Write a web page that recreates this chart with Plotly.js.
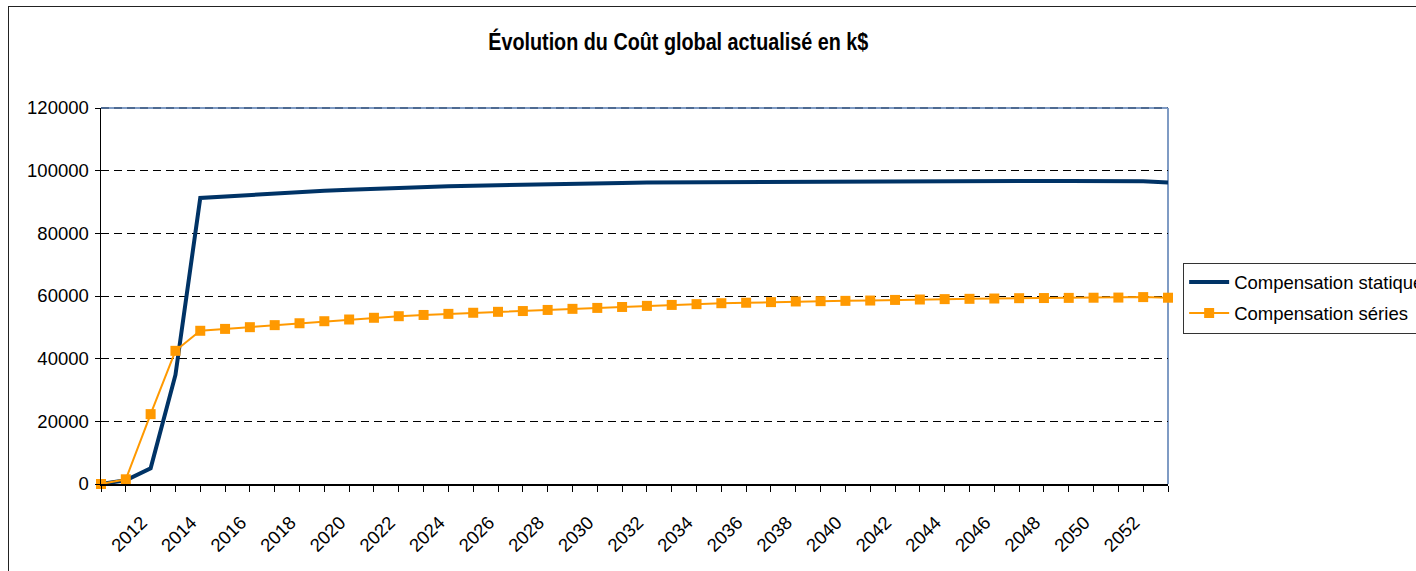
<!DOCTYPE html>
<html>
<head>
<meta charset="utf-8">
<script src="https://cdn.plot.ly/plotly-3.0.1.min.js"></script>
<style>
  html, body { margin: 0; padding: 0; background: #fff; overflow: hidden; }
  #frame { position: absolute; left: 8px; top: 6px; width: 3000px; height: 3000px; border: 1.5px solid #222; pointer-events: none; z-index: 5; }
  #chart { position: absolute; left: 0; top: 0; width: 1416px; height: 571px; }
</style>
</head>
<body>
<div id="chart"></div>
<div id="frame"></div>
<script>
const years = [];
for (let y = 2010; y <= 2053; y++) years.push(y);

const compensationStatique = [
  0, 1200, 5000, 34800, 91300, 91800, 92300, 92800, 93200, 93600,
  93900, 94250, 94550, 94750, 95000, 95200, 95400, 95550, 95650, 95850,
  96000, 96100, 96200, 96250, 96300, 96350, 96400, 96450, 96500, 96550,
  96550, 96600, 96600, 96600, 96650, 96650, 96650, 96700, 96700, 96700,
  96700, 96700, 96600, 96250
];

const compensationSeries = [
  0, 1500, 22300, 42500, 48900, 49500, 50050, 50700, 51300, 51950,
  52500, 53050, 53550, 53950, 54300, 54650, 54950, 55200, 55550, 55900,
  56200, 56500, 56850, 57150, 57400, 57700, 57850, 58050, 58250, 58350,
  58450, 58550, 58750, 58880, 59000, 59100, 59200, 59300, 59350, 59400,
  59450, 59500, 59650, 59450
];

const xTickLabels = [2012,2014,2016,2018,2020,2022,2024,2026,2028,2030,2032,2034,2036,2038,2040,2042,2044,2046,2048,2050,2052];
const yTickValues = [0, 20000, 40000, 60000, 80000, 100000, 120000];

const FONT = 'Liberation Sans, Arial, sans-serif';

const traces = [
  {
    x: years, y: compensationStatique, type: 'scatter', mode: 'lines',
    name: 'Compensation statique', legendgroup: 'a',
    line: { color: '#003366', width: 4 }, cliponaxis: false
  },
  {
    x: years, y: compensationSeries, type: 'scatter', mode: 'lines+markers',
    name: 'Compensation séries', legendgroup: 'b',
    line: { color: '#FF9900', width: 2 },
    marker: { symbol: 'square', size: 10, color: '#FF9900' }, cliponaxis: false
  }
];

const layout = {
  width: 1416, height: 571, autosize: false,
  paper_bgcolor: '#ffffff', plot_bgcolor: '#ffffff',
  margin: { l: 101, r: 248, t: 108, b: 87, autoexpand: false },
  font: { family: FONT, size: 18.5, color: '#000' },
  title: {
    text: '<b>Évolution du Coût global actualisé en k$</b>',
    font: { family: FONT, size: 23, color: '#000' },
    xref: 'container', yref: 'container', x: 0.479, y: 0.926, xanchor: 'center', yanchor: 'middle'
  },
  xaxis: {
    type: 'linear', range: [2010, 2053], fixedrange: true,
    tickmode: 'array', tickvals: xTickLabels, ticktext: xTickLabels.map(String),
    tickangle: -45, ticks: 'outside', ticklen: 6, tickcolor: '#000', tickwidth: 1,
    ticklabelstandoff: 13, ticklabelshift: -9,
    minor: { tickmode: 'linear', tick0: 2010, dtick: 1, ticks: 'outside', ticklen: 6, tickcolor: '#000', showgrid: false },
    showline: true, linecolor: '#000', linewidth: 1.5,
    showgrid: false, zeroline: false,
    tickfont: { family: FONT, size: 18.5, color: '#000' }
  },
  yaxis: {
    range: [0, 120000], fixedrange: true,
    tickmode: 'array', tickvals: yTickValues, ticktext: yTickValues.map(String),
    ticks: 'outside', ticklen: 5, tickcolor: '#000', ticklabelstandoff: 2,
    showline: true, linecolor: '#000', linewidth: 1.5,
    showgrid: true, gridcolor: '#000', gridwidth: 1, griddash: '8px,5px',
    zeroline: false,
    tickfont: { family: FONT, size: 18.5, color: '#000' }
  },
  shapes: [
    { type: 'line', xref: 'paper', yref: 'paper', x0: 0, x1: 1, y0: 1, y1: 1, line: { color: '#7f9bc4', width: 2 }, layer: 'below' },
    { type: 'line', xref: 'paper', yref: 'paper', x0: 0, x1: 1, y0: 1, y1: 1, line: { color: '#1f3a60', width: 1, dash: '8px,5px' }, layer: 'below' },
    { type: 'line', xref: 'paper', yref: 'paper', x0: 1, x1: 1, y0: 0, y1: 1, line: { color: '#7f9bc4', width: 2 }, layer: 'below' }
  ],
  showlegend: true,
  legend: {
    x: 1.0142, y: 0.589, xanchor: 'left', yanchor: 'top',
    bordercolor: '#333', borderwidth: 1, bgcolor: '#fff',
    font: { family: FONT, size: 18.5, color: '#000' },
    traceorder: 'grouped', tracegroupgap: 4, itemwidth: 40
  }
};

Plotly.newPlot('chart', traces, layout, { staticPlot: true, displayModeBar: false }).then(function () {
  // Condense the bold title horizontally, as in the reference's narrow title face
  const t = document.querySelector('.gtitle');
  if (t) {
    const cx = parseFloat(t.getAttribute('x'));
    t.setAttribute('transform', 'translate(' + cx + ',0) scale(0.86,1) translate(' + (-cx) + ',0)');
  }
});
</script>
</body>
</html>
